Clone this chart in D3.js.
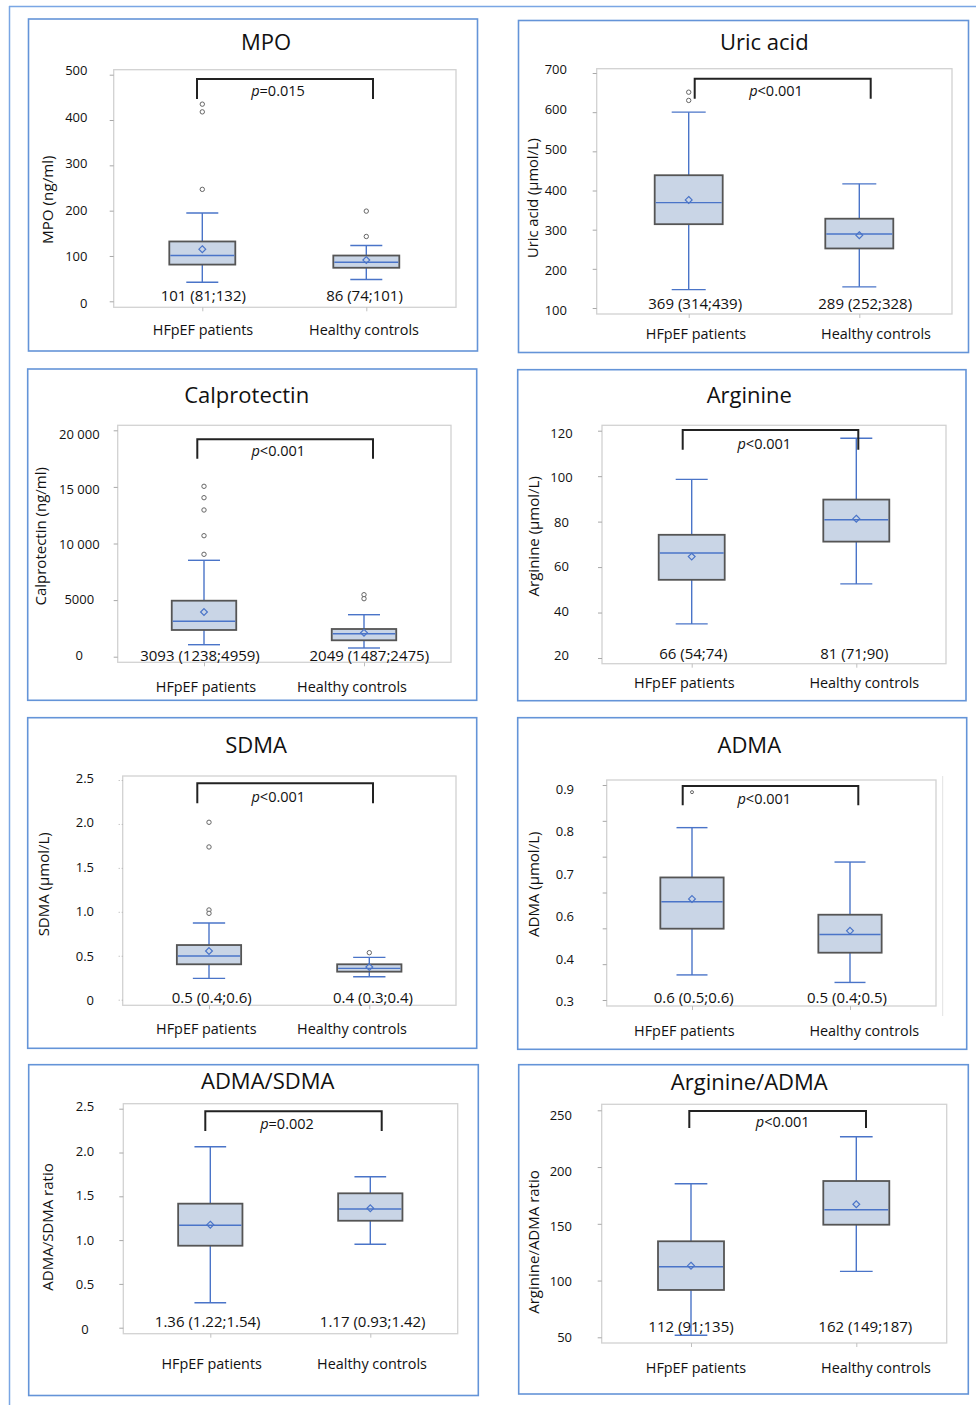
<!DOCTYPE html>
<html><head><meta charset="utf-8">
<script src="https://cdn.jsdelivr.net/npm/d3@7"></script>
<style>body{margin:0;background:#fff}svg{display:block}text{font-family:"Open Sans",sans-serif;fill:#111}</style>
</head><body>
<script>
const categories = ["HFpEF patients", "Healthy controls"];

// MPO
const mpoTicks = [0, 100, 200, 300, 400, 500];
const mpoTickLabels = ["0", "100", "200", "300", "400", "500"];
const mpoBox = [[42, 81, 101, 132, 195], [48, 74, 86, 101, 123]];
const mpoMean = [115, 91];
const mpoOutliers = [[435, 418, 247], [199, 143]];
const mpoText = ["101 (81;132)", "86 (74;101)"];
const mpoP = "=0.015";

// Uric acid
const uricTicks = [100, 200, 300, 400, 500, 600, 700];
const uricTickLabels = ["100", "200", "300", "400", "500", "600", "700"];
const uricBox = [[147, 314, 369, 439, 600], [154, 252, 289, 328, 417]];
const uricMean = [376, 286];
const uricOutliers = [[651, 630], []];
const uricText = ["369 (314;439)", "289 (252;328)"];
const uricP = "<0.001";

// Calprotectin
const calTicks = [0, 5000, 10000, 15000, 20000];
const calTickLabels = ["0", "5000", "10 000", "15 000", "20 000"];
const calBox = [[1060, 2360, 3127, 4947, 8516], [769, 1449, 2032, 2447, 3710]];
const calMean = [3949, 2120];
const calOutliers = [[15053, 14046, 12960, 10689, 9046], [5477, 5124]];
const calText = ["3093 (1238;4959)", "2049 (1487;2475)"];
const calP = "<0.001";

// Arginine
const argTicks = [20, 40, 60, 80, 100, 120];
const argTickLabels = ["20", "40", "60", "80", "100", "120"];
const argBox = [[35, 54.4, 66.2, 74.2, 98.6], [52.6, 71.2, 80.8, 89.7, 116.7]];
const argMean = [64.6, 81.3];
const argOutliers = [[], []];
const argText = ["66 (54;74)", "81 (71;90)"];
const argP = "<0.001";

// SDMA
const sdmaTicks = [0, 0.5, 1.0, 1.5, 2.0, 2.5];
const sdmaTickLabels = ["0", "0.5", "1.0", "1.5", "2.0", "2.5"];
const sdmaBox = [[0.243, 0.403, 0.497, 0.622, 0.873], [0.262, 0.319, 0.357, 0.403, 0.482]];
const sdmaMean = [0.554, 0.372];
const sdmaOutliers = [[2.019, 1.738, 1.021, 0.983], [0.535]];
const sdmaText = ["0.5 (0.4;0.6)", "0.4 (0.3;0.4)"];
const sdmaP = "<0.001";

// ADMA (tick labels in the source are printed top-to-bottom, one fewer than tick marks)
const admaTicks = [0.3, 0.4, 0.5, 0.6, 0.7, 0.8, 0.9];
const admaTickLabels = ["0.9", "0.8", "0.7", "0.6", "0.4", "0.3"];
const admaBox = [[0.370, 0.499, 0.574, 0.642, 0.781], [0.349, 0.432, 0.483, 0.538, 0.685]];
const admaMean = [0.582, 0.493];
const admaOutliers = [[0.880], []];
const admaText = ["0.6 (0.5;0.6)", "0.5 (0.4;0.5)"];
const admaP = "<0.001";

// ADMA/SDMA
const ratio1Ticks = [0, 0.5, 1.0, 1.5, 2.0, 2.5];
const ratio1TickLabels = ["0", "0.5", "1.0", "1.5", "2.0", "2.5"];
const ratio1Box = [[0.285, 0.936, 1.169, 1.416, 2.066], [0.952, 1.221, 1.355, 1.534, 1.724]];
const ratio1Mean = [1.176, 1.363];
const ratio1Outliers = [[], []];
const ratio1Text = ["1.36 (1.22;1.54)", "1.17 (0.93;1.42)"];
const ratio1P = "=0.002";

// Arginine/ADMA
const ratio2Ticks = [50, 100, 150, 200, 250];
const ratio2TickLabels = ["50", "100", "150", "200", "250"];
const ratio2Box = [[51.8, 91.7, 112.2, 134.6, 185.3], [108.1, 149.2, 162.4, 187.7, 226.7]];
const ratio2Mean = [113.1, 167.2];
const ratio2Outliers = [[], []];
const ratio2Text = ["112 (91;135)", "162 (149;187)"];
const ratio2P = "<0.001";

// ---- layout (positions only) ----
const panels = [
  {title:"MPO", ytitle:"MPO  (ng/ml)", ticks:mpoTicks, tl:mpoTickLabels, box:mpoBox, mean:mpoMean, out:mpoOutliers, txt:mpoText, p:mpoP,
   frame:[28.5,19,477.5,351], plot:[113.7,69.7,456,307.3], yr:[301.3,74.7], lr:[303,70.3], xr:[202.3,366.3], bw:66, cw:32,
   tpos:[266,41.3], ypos:[47,199.7], ys:15.2, br:[197,373,79,99], ppos:[278,89.7], vy:295, vx:[203.3,364.5], cy:329.7, cx:[203,364], tla:"end", tlx:87.5},
  {title:"Uric acid", ytitle:"Uric acid (µmol/L)", ticks:uricTicks, tl:uricTickLabels, box:uricBox, mean:uricMean, out:uricOutliers, txt:uricText, p:uricP,
   frame:[518.5,20.5,968.5,352.5], plot:[596.7,68.7,952,314], yr:[308,73], lr:[310.3,68.7], xr:[688.7,859.3], bw:68, cw:34,
   tpos:[764.3,41.3], ypos:[531.7,198], ys:14.7, br:[694.7,870.7,78.7,98.7], ppos:[776,89.7], vy:303, vx:[695.2,865.2], cy:333, cx:[696,876], tla:"end", tlx:567},
  {title:"Calprotectin", ytitle:"Calprotectin  (ng/ml)", ticks:calTicks, tl:calTickLabels, box:calBox, mean:calMean, out:calOutliers, txt:calText, p:calP,
   frame:[27.7,369,476.7,700.3], plot:[117.7,425.3,451,662.3], yr:[656.7,430.3], lr:[654.7,433.7], xr:[204,364], bw:64.5, cw:32,
   tpos:[246.7,394], ypos:[40,536.3], ys:15, br:[197.3,373,439.3,458.7], ppos:[278.3,450.3], vy:655.3, vx:[200,369.3], cy:686.3, cx:[206,352], tla:"middle", tlx:79.3},
  {title:"Arginine", ytitle:"Arginine (µmol/L)", ticks:argTicks, tl:argTickLabels, box:argBox, mean:argMean, out:argOutliers, txt:argText, p:argP,
   frame:[517.7,369.7,966,700.7], plot:[602,425.3,946,663.7], yr:[658,430.7], lr:[655.3,433], xr:[691.7,856.3], bw:66, cw:32,
   tpos:[749.3,394], ypos:[533.3,536.3], ys:15, br:[682.7,858.3,430,449.7], ppos:[764.3,443], vy:653, vx:[693.3,854.3], cy:682.3, cx:[684.3,864.3], tla:"middle", tlx:561.5},
  {title:"SDMA", ytitle:"SDMA  (µmol/L)", ticks:sdmaTicks, tl:sdmaTickLabels, box:sdmaBox, mean:sdmaMean, out:sdmaOutliers, txt:sdmaText, p:sdmaP,
   frame:[27.7,717.7,476.7,1048.3], plot:[122.7,776,456,1005.3], yr:[999.7,780], lr:[1000.3,778], xr:[209,369.3], bw:64.3, cw:32.3,
   tpos:[256,744.3], ypos:[43.3,884.3], ys:15, br:[197.3,373,783.3,803.3], ppos:[278.3,796], vy:997, vx:[211.7,373], cy:1028.7, cx:[206.3,352], tla:"end", tlx:94, dotted:true},
  {title:"ADMA", ytitle:"ADMA  (µmol/L)", ticks:admaTicks, tl:admaTickLabels, box:admaBox, mean:admaMean, out:admaOutliers, txt:admaText, p:admaP,
   frame:[517.7,717.7,966.7,1049.3], plot:[606.7,780,936,1006], yr:[1000,785], xr:[692,850], bw:63.3, cw:31,
   tpos:[749.3,744.3], ypos:[533.3,884.3], ys:15, br:[682.7,858.3,786,805.3], ppos:[764.3,798.3], vy:997, vx:[693.7,847], cy:1030.3, cx:[684.3,864.3], tla:"end", tlx:574,
   pointLabels:[788.7,1001], smallOut:true, extraLine:[942.7,776,1016]},
  {title:"ADMA/SDMA", ytitle:"ADMA/SDMA ratio", ticks:ratio1Ticks, tl:ratio1TickLabels, box:ratio1Box, mean:ratio1Mean, out:ratio1Outliers, txt:ratio1Text, p:ratio1P,
   frame:[28.7,1064.7,478.3,1395.5], plot:[123.3,1103.7,457.7,1333.7], yr:[1327.7,1108.7], lr:[1328.7,1106.3], xr:[210.3,370.3], bw:64.3, cw:31.7,
   tpos:[267.7,1080.3], ypos:[46.7,1227], ys:15, br:[205.3,381.7,1111.3,1131], ppos:[287,1122.7], vy:1321.3, vx:[207.7,372.7], cy:1363.7, cx:[211.7,372], tla:"middle", tlx:85},
  {title:"Arginine/ADMA", ytitle:"Arginine/ADMA ratio", ticks:ratio2Ticks, tl:ratio2TickLabels, box:ratio2Box, mean:ratio2Mean, out:ratio2Outliers, txt:ratio2Text, p:ratio2P,
   frame:[518.7,1064.7,968.3,1394], plot:[601.7,1104.3,946.7,1343], yr:[1337.3,1110.3], lr:[1336.7,1115.3], xr:[691,856.3], bw:66, cw:32.7,
   tpos:[749.3,1081], ypos:[532.7,1242], ys:15, br:[689.3,866,1111,1128], ppos:[782.7,1121], vy:1326.3, vx:[691,865.3], cy:1367.7, cx:[696,876], tla:"end", tlx:572}
];

const W = 976, H = 1405;
const svg = d3.select("body").append("svg").attr("width", W).attr("height", H);
const FRAME = "#6494d8", BLUE = "#4a74c8", BOXFILL = "#c9d5e6", BOXSTROKE = "#555";

// outer frame lines (top + left)
svg.append("line").attr("x1", 9).attr("x2", W).attr("y1", 6.5).attr("y2", 6.5).attr("stroke", "#7aa6e4").attr("stroke-width", 1.5);
svg.append("line").attr("x1", 9.5).attr("x2", 9.5).attr("y1", 6).attr("y2", H).attr("stroke", "#7aa6e4").attr("stroke-width", 1.5);

panels.forEach(P => {
  const g = svg.append("g");
  const [fx1, fy1, fx2, fy2] = P.frame;
  g.append("rect").attr("x", fx1).attr("y", fy1).attr("width", fx2 - fx1).attr("height", fy2 - fy1)
    .attr("fill", "#fff").attr("stroke", FRAME).attr("stroke-width", 1.6);
  const [px1, py1, px2, py2] = P.plot;
  g.append("rect").attr("x", px1).attr("y", py1).attr("width", px2 - px1).attr("height", py2 - py1)
    .attr("fill", "none").attr("stroke", "#d2d2d2").attr("stroke-width", 1.3);
  if (P.extraLine) {
    g.append("line").attr("x1", P.extraLine[0]).attr("x2", P.extraLine[0]).attr("y1", P.extraLine[1]).attr("y2", P.extraLine[2])
      .attr("stroke", "#e2e2e2").attr("stroke-width", 1);
  }

  const y = d3.scaleLinear().domain(d3.extent(P.ticks)).range(P.yr);
  const x = d3.scalePoint().domain(categories).range(P.xr);

  // y axis ticks (marks only)
  const ya = g.append("g").attr("transform", `translate(${px1},0)`)
    .call(d3.axisLeft(y).tickValues(P.ticks).tickSize(P.dotted ? 6 : 4).tickFormat(""));
  ya.select(".domain").remove();
  ya.selectAll(".tick line").attr("stroke", P.dotted ? "#b0b0b0" : "#a8a8a8").attr("stroke-width", 1)
    .attr("stroke-dasharray", P.dotted ? "1,2" : null);

  // y tick labels (placed as printed in the source)
  if (P.pointLabels) {
    const ly = d3.scalePoint().domain(P.tl).range(P.pointLabels);
    g.selectAll(".tl").data(P.tl).join("text").attr("x", P.tlx).attr("y", d => ly(d))
      .attr("text-anchor", P.tla).attr("dominant-baseline", "central").attr("font-size", 13).text(d => d);
  } else {
    const ly = d3.scaleLinear().domain(d3.extent(P.ticks)).range(P.lr);
    g.selectAll(".tl").data(P.ticks).join("text").attr("x", P.tlx).attr("y", d => ly(d))
      .attr("text-anchor", P.tla).attr("dominant-baseline", "central").attr("font-size", 13)
      .text((d, i) => P.tl[i]);
  }

  // x axis category tick marks
  const xa = g.append("g").attr("transform", `translate(0,${py2})`).call(d3.axisBottom(x).tickSize(4).tickFormat(""));
  xa.select(".domain").remove();
  xa.selectAll(".tick line").attr("stroke", "#c0c0c0");

  // titles
  g.append("text").attr("x", P.tpos[0]).attr("y", P.tpos[1]).attr("text-anchor", "middle").attr("dominant-baseline", "central")
    .attr("font-size", 22).text(P.title);
  g.append("text").attr("transform", `translate(${P.ypos[0]},${P.ypos[1]}) rotate(-90)`).attr("text-anchor", "middle")
    .attr("dominant-baseline", "central").attr("font-size", P.ys).text(P.ytitle);

  // boxes
  categories.forEach((c, i) => {
    const cx = x(c), b = P.box[i];
    g.append("line").attr("x1", cx).attr("x2", cx).attr("y1", y(b[0])).attr("y2", y(b[1])).attr("stroke", BLUE).attr("stroke-width", 1.4);
    g.append("line").attr("x1", cx).attr("x2", cx).attr("y1", y(b[3])).attr("y2", y(b[4])).attr("stroke", BLUE).attr("stroke-width", 1.4);
    [b[0], b[4]].forEach(v => g.append("line").attr("x1", cx - P.cw / 2).attr("x2", cx + P.cw / 2).attr("y1", y(v)).attr("y2", y(v))
      .attr("stroke", BLUE).attr("stroke-width", 1.4));
    g.append("rect").attr("x", cx - P.bw / 2).attr("y", y(b[3])).attr("width", P.bw).attr("height", y(b[1]) - y(b[3]))
      .attr("fill", BOXFILL).attr("stroke", BOXSTROKE).attr("stroke-width", 1.8);
    g.append("line").attr("x1", cx - P.bw / 2 + 1).attr("x2", cx + P.bw / 2 - 1).attr("y1", y(b[2])).attr("y2", y(b[2]))
      .attr("stroke", BLUE).attr("stroke-width", 1.4);
    const my = y(P.mean[i]), s = 3.4;
    g.append("path").attr("d", `M${cx},${my - s}L${cx + s},${my}L${cx},${my + s}L${cx - s},${my}Z`)
      .attr("fill", "none").attr("stroke", BLUE).attr("stroke-width", 1.2);
    P.out[i].forEach(v => g.append("circle").attr("cx", cx).attr("cy", y(v)).attr("r", P.smallOut ? 1.5 : 2.2)
      .attr("fill", "#fff").attr("stroke", "#666").attr("stroke-width", 1));
    g.append("text").attr("x", P.vx[i]).attr("y", P.vy).attr("text-anchor", "middle").attr("dominant-baseline", "central")
      .attr("font-size", 15).text(P.txt[i]);
    g.append("text").attr("x", P.cx[i]).attr("y", P.cy).attr("text-anchor", "middle").attr("dominant-baseline", "central")
      .attr("font-size", 14.4).text(c);
  });

  // significance bracket
  const [bx1, bx2, by1, by2] = P.br;
  g.append("path").attr("d", `M${bx1},${by2}V${by1}H${bx2}V${by2}`).attr("fill", "none").attr("stroke", "#222").attr("stroke-width", 2);
  const pt = g.append("text").attr("x", P.ppos[0]).attr("y", P.ppos[1]).attr("text-anchor", "middle").attr("dominant-baseline", "central")
    .attr("font-size", 14.5);
  pt.append("tspan").attr("font-style", "italic").text("p");
  pt.append("tspan").text(P.p);
});
</script>
</body></html>
